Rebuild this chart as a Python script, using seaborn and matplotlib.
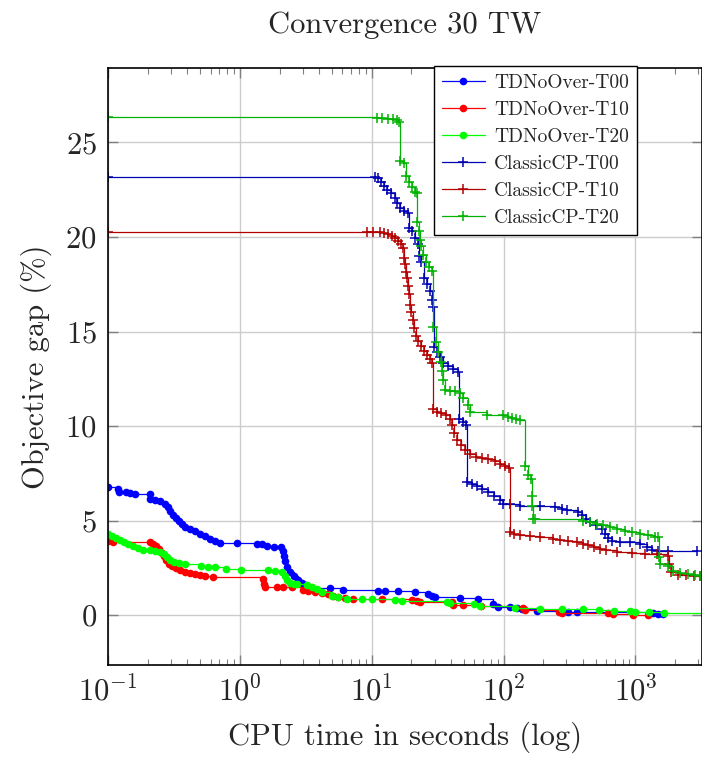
import matplotlib

matplotlib.use("Agg")
import matplotlib.pyplot as plt
import seaborn as sns

# TDNoOver runs (CPU time in s, objective gap in %)
td_t00_time = [0.1, 0.119, 0.121, 0.136, 0.146, 0.16, 0.207, 0.21, 0.226, 0.247,
               0.27, 0.284, 0.294, 0.31, 0.327, 0.344, 0.363, 0.382, 0.417, 0.455,
               0.497, 0.542, 0.592, 0.646, 0.705, 0.95, 1.35, 1.47, 1.6, 1.81,
               2.05, 2.12, 2.16, 2.2, 2.27, 2.4, 2.57, 2.76, 2.96, 3.17,
               3.4, 4.82, 6.05, 11.2, 12.6, 15.8, 21.3, 26.8, 28.7, 30.3,
               46.8, 64.1, 83.4, 91.0, 112, 127, 138, 180, 309, 362,
               1367, 1493, 1629]
td_t00_gap = [6.76, 6.7, 6.49, 6.49, 6.44, 6.39, 6.39, 6.12, 6.07, 6.02,
              5.86, 5.7, 5.49, 5.28, 5.12, 4.96, 4.8, 4.65, 4.54, 4.44,
              4.28, 4.17, 4.01, 3.91, 3.8, 3.8, 3.75, 3.75, 3.64, 3.59,
              3.59, 3.38, 3.12, 2.85, 2.53, 2.27, 2.06, 1.85, 1.69, 1.58,
              1.43, 1.43, 1.32, 1.27, 1.27, 1.27, 1.21, 1.11, 1.0, 0.95,
              0.9, 0.84, 0.58, 0.42, 0.42, 0.37, 0.32, 0.21, 0.16, 0.16,
              0.1, 0.05, 0.05]

td_t10_time = [0.1, 0.109, 0.207, 0.218, 0.23, 0.242, 0.256, 0.265, 0.274, 0.289,
               0.305, 0.327, 0.35, 0.382, 0.417, 0.455, 0.497, 0.542, 0.624, 1.5,
               1.52, 1.55, 1.91, 2.12, 2.48, 3.01, 3.28, 3.71, 4.2, 4.66,
               5.08, 5.55, 6.27, 7.21, 12.0, 20.2, 22.1, 23.3, 40.7, 41.4,
               49.3, 67.6, 141, 146, 264, 276, 622, 679, 964, 1253]
td_t10_gap = [3.9, 3.85, 3.85, 3.75, 3.64, 3.48, 3.27, 3.12, 2.9, 2.69,
              2.59, 2.48, 2.38, 2.27, 2.22, 2.16, 2.11, 2.06, 2.0, 1.9,
              1.64, 1.48, 1.48, 1.48, 1.48, 1.32, 1.27, 1.21, 1.16, 1.11,
              1.0, 0.95, 0.9, 0.84, 0.84, 0.79, 0.74, 0.69, 0.69, 0.53,
              0.53, 0.48, 0.37, 0.26, 0.16, 0.11, 0.11, 0.05, 0.02, 0.02]

td_t20_time = [0.1, 0.107, 0.114, 0.123, 0.132, 0.141, 0.154, 0.168, 0.183, 0.207,
               0.226, 0.247, 0.265, 0.28, 0.294, 0.315, 0.344, 0.382, 0.506, 0.571,
               0.646, 0.783, 1.02, 1.63, 1.85, 2.08, 2.2, 2.27, 2.4, 2.57,
               2.71, 3.23, 3.52, 3.84, 4.2, 5.0, 5.55, 6.49, 8.44, 10.0,
               15.0, 17.0, 37.3, 39.3, 59.8, 66.4, 122, 190, 279, 402,
               532, 691, 915, 999, 1276, 1656, 3600]
td_t20_gap = [4.28, 4.17, 4.07, 3.96, 3.85, 3.75, 3.64, 3.54, 3.43, 3.43,
              3.38, 3.33, 3.22, 3.06, 2.9, 2.8, 2.75, 2.69, 2.59, 2.53,
              2.53, 2.43, 2.38, 2.38, 2.32, 2.27, 2.06, 1.85, 1.69, 1.64,
              1.64, 1.58, 1.48, 1.37, 1.21, 1.0, 0.95, 0.84, 0.84, 0.84,
              0.79, 0.74, 0.69, 0.63, 0.58, 0.48, 0.37, 0.32, 0.32, 0.32,
              0.26, 0.21, 0.21, 0.16, 0.16, 0.1, 0.1]

# ClassicCP runs
cp_t00_time = [0.1, 10.6, 11.2, 11.8, 12.4, 13.1, 14.0, 15.0, 15.6, 16.4,
               17.6, 18.9, 19.2, 20.2, 21.3, 22.5, 22.9, 23.7, 24.9, 26.3,
               27.7, 28.7, 29.2, 29.7, 31.3, 33.0, 34.8, 37.9, 41.4, 45.2,
               46.0, 49.3, 52.0, 52.9, 57.8, 63.0, 68.8, 76.4, 84.9, 94.2,
               99.3, 112, 134, 190, 247, 279, 304, 368, 395, 424,
               455, 505, 561, 591, 622, 668, 768, 915, 1090, 1231,
               1343, 1493, 1778, 2951]
cp_t00_gap = [23.18, 23.18, 23.13, 22.9, 22.7, 22.5, 22.33, 22.07, 21.8, 21.54,
              21.38, 21.28, 20.49, 20.33, 19.96, 19.64, 19.0, 18.7, 17.85, 17.53,
              17.16, 16.68, 16.3, 14.2, 13.94, 13.67, 13.36, 13.2, 13.04, 12.88,
              10.35, 10.24, 10.08, 7.07, 6.92, 6.81, 6.65, 6.49, 6.28, 6.07,
              5.86, 5.86, 5.8, 5.75, 5.7, 5.6, 5.54, 5.44, 5.28, 5.07,
              4.91, 4.75, 4.54, 4.28, 4.07, 3.91, 3.85, 3.85, 3.75, 3.59,
              3.43, 3.38, 3.38, 3.38]

cp_t10_time = [0.1, 9.2, 10.2, 11.5, 12.4, 13.3, 14.3, 15.0, 15.8, 16.7,
               17.3, 17.6, 18.0, 18.2, 18.5, 18.9, 19.2, 19.5, 19.9, 20.6,
               21.0, 21.7, 22.5, 23.7, 24.9, 26.3, 27.7, 28.7, 29.2, 31.3,
               33.6, 36.6, 39.3, 40.7, 42.2, 44.4, 47.6, 51.1, 55.8, 62.0,
               68.8, 76.4, 86.3, 94.2, 103, 110, 112, 120, 134, 159,
               190, 238, 269, 309, 362, 402, 439, 487, 542, 601,
               729, 948, 1189, 1466, 1778, 1808, 1872, 2118, 2436, 2800,
               3112]
cp_t10_gap = [20.27, 20.27, 20.27, 20.27, 20.22, 20.17, 20.06, 19.96, 19.8, 19.64,
              19.43, 18.9, 18.58, 18.16, 17.85, 17.42, 17.0, 16.42, 16.05, 15.63,
              15.21, 14.78, 14.52, 14.26, 13.99, 13.78, 13.57, 13.36, 10.88, 10.77,
              10.67, 10.56, 10.4, 10.08, 9.66, 9.29, 8.98, 8.76, 8.55, 8.39,
              8.29, 8.24, 8.13, 7.97, 7.87, 7.76, 4.38, 4.28, 4.22, 4.17,
              4.12, 4.01, 3.96, 3.91, 3.85, 3.75, 3.7, 3.59, 3.48, 3.43,
              3.33, 3.27, 3.22, 3.22, 3.12, 2.69, 2.27, 2.13, 2.11, 2.06,
              2.06]

cp_t20_time = [0.1, 11.0, 12.0, 13.3, 14.5, 15.6, 16.1, 16.4, 17.6, 18.2,
               19.2, 20.2, 21.3, 22.1, 22.2, 22.9, 23.3, 23.7, 24.5, 25.8,
               27.2, 28.7, 29.2, 30.8, 31.9, 33.6, 34.2, 34.8, 36.0, 39.3,
               42.9, 46.8, 49.3, 53.8, 55.8, 75.0, 99.3, 108, 116, 125,
               134, 146, 154, 162, 164, 165, 168, 174, 402, 455,
               514, 571, 645, 729, 838, 948, 1090, 1253, 1416, 1493,
               1518, 1545, 1778, 1941, 2193, 2523, 2851, 3112]
cp_t20_gap = [26.35, 26.29, 26.29, 26.24, 26.24, 26.19, 26.1, 24.0, 23.9, 23.2,
              22.9, 22.65, 22.4, 22.3, 20.8, 20.3, 19.85, 19.5, 19.06, 18.7,
              18.4, 18.2, 15.26, 14.47, 13.9, 13.4, 12.9, 12.46, 11.93, 11.88,
              11.83, 11.77, 11.5, 11.14, 10.72, 10.6, 10.6, 10.5, 10.45, 10.35,
              10.3, 7.87, 7.44, 7.18, 6.28, 5.75, 5.07, 5.07, 4.96, 4.91,
              4.8, 4.75, 4.65, 4.54, 4.43, 4.38, 4.28, 4.22, 4.12, 4.12,
              3.06, 2.69, 2.59, 2.32, 2.22, 2.16, 2.11, 2.06]

sns.set_style("ticks")
plt.rcParams["font.family"] = ["cmr10"]
plt.rcParams["mathtext.fontset"] = "cm"
plt.rcParams["axes.formatter.use_mathtext"] = True
plt.rcParams["axes.unicode_minus"] = False

fig = plt.figure(figsize=(7.02, 7.58), dpi=100)
ax = fig.add_axes([108 / 702, 1 - 665 / 758, 594 / 702, 597 / 758])

series = [
    ("TDNoOver-T00", td_t00_time, td_t00_gap, "#0000ff", "o"),
    ("TDNoOver-T10", td_t10_time, td_t10_gap, "#ff0000", "o"),
    ("TDNoOver-T20", td_t20_time, td_t20_gap, "#00ff00", "o"),
    ("ClassicCP-T00", cp_t00_time, cp_t00_gap, "#0000b3", "+"),
    ("ClassicCP-T10", cp_t10_time, cp_t10_gap, "#b30000", "+"),
    ("ClassicCP-T20", cp_t20_time, cp_t20_gap, "#00b300", "+"),
]

for name, t, g, color, mk in series:
    if mk == "o":
        style = dict(marker="o", markersize=5.5, markeredgewidth=0)
    else:
        style = dict(marker="+", markersize=6.5, markeredgewidth=1.1)
    sns.lineplot(
        x=t, y=g, ax=ax, color=color, label=name, estimator=None, sort=False,
        drawstyle="steps-post", linewidth=0.9, markeredgecolor=color,
        markerfacecolor=color, **style,
    )

ax.set_xscale("log")
ax.set_xlim(0.1, 3200)
ax.set_ylim(-2.63, 28.93)
ax.set_yticks([0, 5, 10, 15, 20, 25])
ax.grid(True, which="major", color="#cccccc", linewidth=1.0)
ax.set_axisbelow(True)
ax.tick_params(which="both", direction="in", top=True, right=True,
               labelsize=22, color="#808080")
ax.tick_params(which="major", length=7, width=1.0, pad=8)
ax.tick_params(which="minor", length=4.5, width=0.8)
for sp in ax.spines.values():
    sp.set_color("black")
    sp.set_linewidth(1.2)

ax.set_title("Convergence 30 TW", fontsize=22, pad=25)
ax.set_xlabel("CPU time in seconds (log)", fontsize=22, labelpad=10)
ax.set_ylabel("Objective gap (%)", fontsize=22, labelpad=10)

leg = ax.legend(
    loc="upper left", bbox_to_anchor=(434 / 702, 1 - 66 / 758),
    bbox_transform=fig.transFigure, fontsize=14, frameon=True,
    fancybox=False, edgecolor="black", framealpha=1, borderaxespad=0,
    handlelength=2.2, handletextpad=0.5, labelspacing=0.47, borderpad=0.4,
)
leg.get_frame().set_linewidth(1.0)

fig.savefig("out.png", dpi=100)
